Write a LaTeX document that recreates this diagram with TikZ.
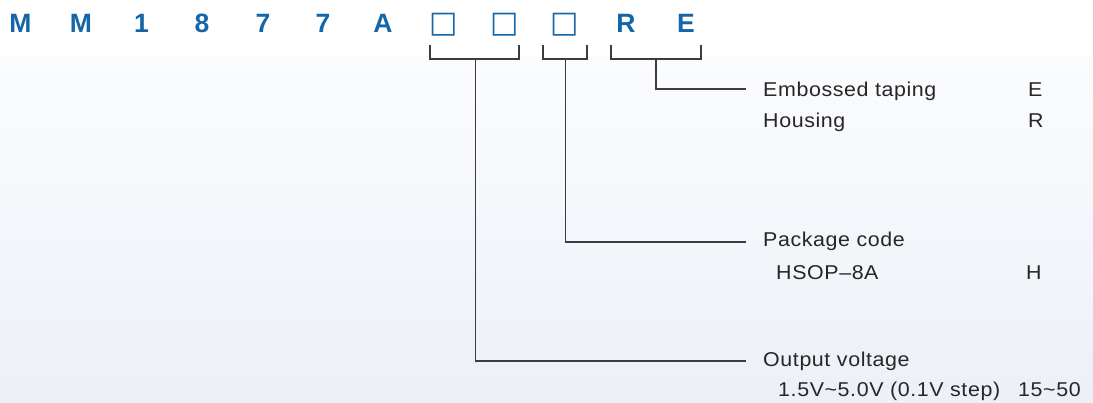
\documentclass[tikz,border=0pt]{standalone}
\usepackage{fontspec}
\setmainfont{Liberation Sans}
\newfontfamily\labfont[LetterSpace=3,FakeStretch=1.07]{Liberation Sans}
\newfontfamily\symfont{DejaVu Sans}
\definecolor{pnblue}{RGB}{21,101,168}
\definecolor{txtgray}{RGB}{38,38,38}
\definecolor{lngray}{RGB}{60,60,62}
\definecolor{bgtop}{RGB}{251,252,254}
\definecolor{bgbot}{RGB}{236,240,247}
\tikzset{
  letter/.style={anchor=base, inner sep=0pt, text=pnblue, font=\bfseries\fontsize{26.5}{30}\selectfont},
  sqbox/.style={anchor=base, inner sep=0pt, text=pnblue, font=\symfont\fontsize{30}{34}\selectfont},
  lab/.style={anchor=base west, inner sep=0pt, text=txtgray, font=\labfont\fontsize{20}{24}\selectfont},
  conn/.style={draw=lngray, line width=1.3pt}
}
\begin{document}
\begin{tikzpicture}[x=1pt,y=-1pt]
\fill[white] (0,0) rectangle (1093,57);
\shade[top color=bgtop, bottom color=bgbot] (0,57) rectangle (1093,403);
\useasboundingbox (0,0) rectangle (1093,403);

% part number characters
\node[letter] (c1) at (20.5,33) {M};
\node[letter] (c2) at (81,33) {M};
\node[letter] (c3) at (141.5,33) {1};
\node[letter] (c4) at (202,33) {8};
\node[letter] (c5) at (263,33) {7};
\node[letter] (c6) at (323,33) {7};
\node[letter] (c7) at (383,33) {A};
\node[sqbox] (c8) at (444,33) {□};
\node[sqbox] (c9) at (505,33) {□};
\node[sqbox] (c10) at (565,33) {□};
\node[letter] (c11) at (626,33) {R};
\node[letter] (c12) at (686,33) {E};

% labels
\node[lab] (emb) at (763,97) {Embossed taping};
\node[lab] (embc) at (1028,97) {E};
\node[lab] (hou) at (763,128) {Housing};
\node[lab] (houc) at (1028,128) {R};
\node[lab] (pkg) at (763,247) {Package code};
\node[lab] (hsop) at (776,280) {HSOP–8A};
\node[lab] (hsopc) at (1026,280) {H};
\node[lab] (ov) at (763,367) {Output voltage};
\node[lab] (ovr) at (778,397) {1.5V\textasciitilde 5.0V (0.1V step)};
\node[lab] (ovc) at (1018,397) {15\textasciitilde 50};

% bracket coordinates
\coordinate (b1l) at (430,45); \coordinate (b1r) at (519,45); \coordinate (b1m) at (475.5,59);
\coordinate (b2l) at (543,45); \coordinate (b2r) at (587,45); \coordinate (b2m) at (565.5,59);
\coordinate (b3l) at (611,45); \coordinate (b3r) at (701,45); \coordinate (b3m) at (656,59);
\coordinate (embEnd) at (746,89);
\coordinate (pkgEnd) at (746,242);
\coordinate (ovEnd) at (746,361);

\draw[conn] (b1l) |- (b1m) -| (b1r);
\draw[conn] (b2l) |- (b2m) -| (b2r);
\draw[conn] (b3l) |- (b3m) -| (b3r);
\draw[conn] (b3m) |- (embEnd);
\draw[conn] (b2m) |- (pkgEnd);
\draw[conn] (b1m) |- (ovEnd);
\end{tikzpicture}
\end{document}
